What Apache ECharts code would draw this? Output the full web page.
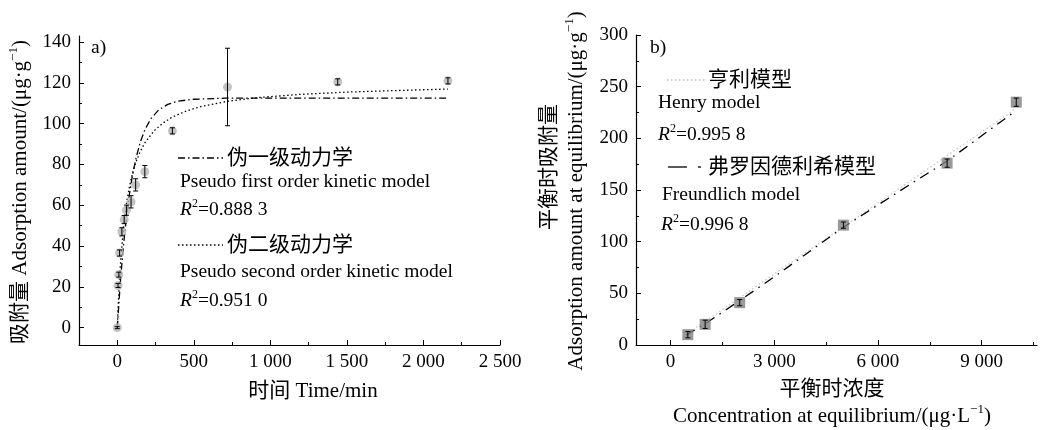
<!DOCTYPE html>
<html><head><meta charset="utf-8">
<script src="https://cdn.jsdelivr.net/npm/echarts@6/dist/echarts.min.js"></script>
<style>html,body{margin:0;padding:0;background:#fff}#c{width:1047px;height:430px}</style>
</head><body><div id="c"></div>
<script>
// ---- data: panel a) kinetics ----
const timeMin  = [0, 5, 10, 15, 30, 45, 60, 90, 120, 180, 360, 720, 1440, 2160];
const adsorbed = [0, 20.7, 26, 36.6, 47, 53, 57.6, 61.7, 70, 76.5, 96.5, 118, 120.5, 121];
const errA     = [0.5, 1, 1.2, 1.5, 2, 2, 2.5, 3, 3, 3, 1.5, 19, 1.5, 1.5];
const pfoT = [0, 20, 40, 60, 80, 100, 120, 150, 180, 220, 270, 330, 400, 500, 700, 1000, 1500, 2160];
const pfoQ = [0, 22.2, 40, 54.3, 65.8, 75, 82.4, 90.9, 97, 102.5, 106.7, 109.5, 111.1, 112, 112.5, 112.5, 112.5, 112.5];
const psoT = [0, 10, 20, 40, 60, 80, 100, 120, 150, 180, 240, 300, 360, 450, 550, 720, 900, 1200, 1500, 1800, 2160];
const psoQ = [0, 17.5, 30.6, 48.8, 60.8, 69.4, 75.8, 80.8, 86.4, 90.6, 96.5, 100.4, 103.3, 106.2, 108.5, 111, 112.7, 114.4, 115.5, 116.2, 117];
// ---- data: panel b) isotherms ----
const conc   = [500, 1000, 2000, 5000, 8000, 10000];
const qeq    = [10, 20, 41, 116, 176, 235];
const errB   = [3, 4, 3, 3, 4, 4];
const henryC = [450, 10000];
const henryQ = [10.3, 229];
const freundC = [450, 1000, 2000, 3000, 5000, 7000, 8000, 10000];
const freundQ = [9.5, 20.5, 43, 66, 114, 157, 178, 227];
// ---- tick values ----
const xTicksA = [0, 500, 1000, 1500, 2000, 2500];
const xMinorA = [250, 750, 1250, 1750, 2250];
const yTicksA = [0, 20, 40, 60, 80, 100, 120, 140];
const yMinorA = [10, 30, 50, 70, 90, 110, 130];
const xTicksB = [0, 3000, 6000, 9000];
const xMinorB = [1500, 4500, 7500, 10500];
const yTicksB = [0, 50, 100, 150, 200, 250, 300];
const yMinorB = [25, 75, 125, 175, 225, 275];

const FF = "'Liberation Serif','Noto Sans CJK SC',serif";
const fmt = v => { const s = String(Math.round(v)); return s.length > 3 ? s.slice(0, s.length - 3) + ' ' + s.slice(-3) : s; };
const zip = (a, b) => a.map((v, i) => [v, b[i]]);

function majorAxis(grid, min, max, ticks, pos) {
  return {
    type: 'value', gridIndex: grid, min: min, max: max, position: pos, splitLine: {show: false},
    axisLine: {show: true, onZero: false, lineStyle: {color: '#000', width: 1.2}},
    axisTick: {show: true, inside: true, length: 5, customValues: ticks, lineStyle: {color: '#000', width: 1}},
    axisLabel: {show: true, customValues: ticks, formatter: fmt, color: '#000', fontFamily: FF, fontSize: 19, margin: 8},
  };
}
function minorAxis(grid, min, max, ticks, pos) {
  return {
    type: 'value', gridIndex: grid, min: min, max: max, position: pos, offset: 0, splitLine: {show: false},
    axisLine: {show: false, onZero: false},
    axisTick: {show: true, inside: true, length: 3, customValues: ticks, lineStyle: {color: '#000', width: 1}},
    axisLabel: {show: false},
  };
}
function errBars(xs, ys, es, xi, yi) {
  return {
    type: 'custom', xAxisIndex: xi, yAxisIndex: yi, z: 5,
    data: xs.map((x, i) => [x, ys[i] - es[i], ys[i] + es[i]]),
    encode: {x: 0, y: [1, 2]},
    renderItem: function (params, api) {
      const x = api.value(0), p1 = api.coord([x, api.value(2)]), p2 = api.coord([x, api.value(1)]);
      const w = 2.5, st = {stroke: '#000', lineWidth: 1};
      return {type: 'group', children: [
        {type: 'line', shape: {x1: p1[0], y1: p1[1], x2: p2[0], y2: p2[1]}, style: st},
        {type: 'line', shape: {x1: p1[0] - w, y1: p1[1], x2: p1[0] + w, y2: p1[1]}, style: st},
        {type: 'line', shape: {x1: p2[0] - w, y1: p2[1], x2: p2[0] + w, y2: p2[1]}, style: st}
      ]};
    }
  };
}
const richR = {
  i: {fontStyle: 'italic', fontFamily: FF, fontSize: 19.5, fill: '#000', lineHeight: 24},
  s: {fontFamily: FF, fontSize: 12, verticalAlign: 'top', lineHeight: 24, fill: '#000'},
  n: {fontFamily: FF, fontSize: 19.5, lineHeight: 24, fill: '#000'}
};
const richT = {
  n: {fontFamily: FF, fontSize: 21, lineHeight: 25, fill: '#000'},
  s: {fontFamily: FF, fontSize: 13, verticalAlign: 'top', lineHeight: 25, fill: '#000'}
};
function txt(x, y, text, size, align, rot) {
  return {type: 'text', x: x, y: y, z: 100, rotation: rot || 0,
    style: {text: text, fontFamily: FF, fontSize: size, fill: '#000', align: align || 'left', verticalAlign: 'middle'}};
}
function rtxt(x, y, text, rich, align, rot) {
  return {type: 'text', x: x, y: y, z: 100, rotation: rot || 0,
    style: {text: text, rich: rich, fontFamily: FF, fontSize: 19.5, fill: '#000', align: align || 'left', verticalAlign: 'middle'}};
}
function seg(x1, x2, y, dash, color) {
  return {type: 'line', z: 100, shape: {x1: x1, y1: y, x2: x2, y2: y}, style: {stroke: color || '#000', lineWidth: 1.3, lineDash: dash}};
}

const chart = echarts.init(document.getElementById('c'), null, {renderer: 'canvas'});
chart.setOption({
  animation: false,
  backgroundColor: '#fff',
  grid: [
    {left: 79, top: 36, width: 421, height: 309},
    {left: 636, top: 35, width: 401, height: 310}
  ],
  xAxis: [
    majorAxis(0, -250, 2500, xTicksA, 'bottom'), majorAxis(1, -1000, 10600, xTicksB, 'bottom'),
    minorAxis(0, -250, 2500, xMinorA, 'bottom'), minorAxis(1, -1000, 10600, xMinorB, 'bottom')
  ],
  yAxis: [
    majorAxis(0, -8.5, 143, yTicksA, 'left'), majorAxis(1, 0, 300, yTicksB, 'left'),
    minorAxis(0, -8.5, 143, yMinorA, 'left'), minorAxis(1, 0, 300, yMinorB, 'left')
  ],
  series: [
    {type: 'line', xAxisIndex: 0, yAxisIndex: 0, data: zip(pfoT, pfoQ), showSymbol: false, smooth: false,
      lineStyle: {color: '#000', width: 1.3, type: [7, 3, 1.5, 3]}, z: 3},
    {type: 'line', xAxisIndex: 0, yAxisIndex: 0, data: zip(psoT, psoQ), showSymbol: false, smooth: false,
      lineStyle: {color: '#000', width: 1.3, type: [1.5, 2.5]}, z: 3},
    {type: 'scatter', xAxisIndex: 0, yAxisIndex: 0, data: zip(timeMin, adsorbed), symbol: 'circle', symbolSize: 9,
      itemStyle: {color: '#b5b5b5'}, z: 4},
    errBars(timeMin, adsorbed, errA, 0, 0),
    {type: 'line', xAxisIndex: 1, yAxisIndex: 1, data: zip(henryC, henryQ), showSymbol: false,
      lineStyle: {color: '#c8c8c8', width: 1.3, type: [1.5, 2.5]}, z: 2},
    {type: 'line', xAxisIndex: 1, yAxisIndex: 1, data: zip(freundC, freundQ), showSymbol: false, smooth: false,
      lineStyle: {color: '#000', width: 1.3, type: [10, 6, 1.5, 6]}, z: 3},
    {type: 'scatter', xAxisIndex: 1, yAxisIndex: 1, data: zip(conc, qeq), symbol: 'rect', symbolSize: 11,
      itemStyle: {color: '#808080'}, z: 4},
    errBars(conc, qeq, errB, 1, 1)
  ],
  graphic: [
    txt(91, 48, 'a)', 19.5),
    txt(650, 48, 'b)', 19.5),
    // legend a
    seg(178, 223, 158, [7, 3, 1.5, 3]),
    txt(227, 158, '伪一级动力学', 21),
    txt(180, 182, 'Pseudo first order kinetic model', 19.5),
    rtxt(180, 210, '{i|R}{s|2}{n|=0.888 3}', richR),
    seg(178, 223, 245, [1.5, 2.5]),
    txt(227, 245, '伪二级动力学', 21),
    txt(180, 272, 'Pseudo second order kinetic model', 19.5),
    rtxt(180, 301, '{i|R}{s|2}{n|=0.951 0}', richR),
    // legend b
    seg(667, 705, 80, [1.5, 2.5], '#bbbbbb'),
    txt(708, 80, '亨利模型', 21),
    txt(658, 103, 'Henry model', 19.5),
    rtxt(658, 135, '{i|R}{s|2}{n|=0.995 8}', richR),
    seg(668, 687, 167, null),
    seg(698, 701, 167, null),
    txt(708, 167, '弗罗因德利希模型', 21),
    txt(662, 195, 'Freundlich model', 19.5),
    rtxt(661, 225, '{i|R}{s|2}{n|=0.996 8}', richR),
    // axis titles
    rtxt(20, 192, '{n|吸附量 Adsorption amount/(μg·g}{s|−1}{n|)}', richT, 'center', Math.PI / 2),
    txt(313, 391, '时间 Time/min', 21, 'center'),
    txt(549, 167, '平衡时吸附量', 21, 'center', Math.PI / 2),
    rtxt(576, 191, '{n|Adsorption amount at equilibrium/(μg·g}{s|−1}{n|)}', richT, 'center', Math.PI / 2),
    txt(832, 389, '平衡时浓度', 21, 'center'),
    rtxt(832, 416, '{n|Concentration at equilibrium/(μg·L}{s|−1}{n|)}', richT, 'center')
  ]
});
</script></body></html>
